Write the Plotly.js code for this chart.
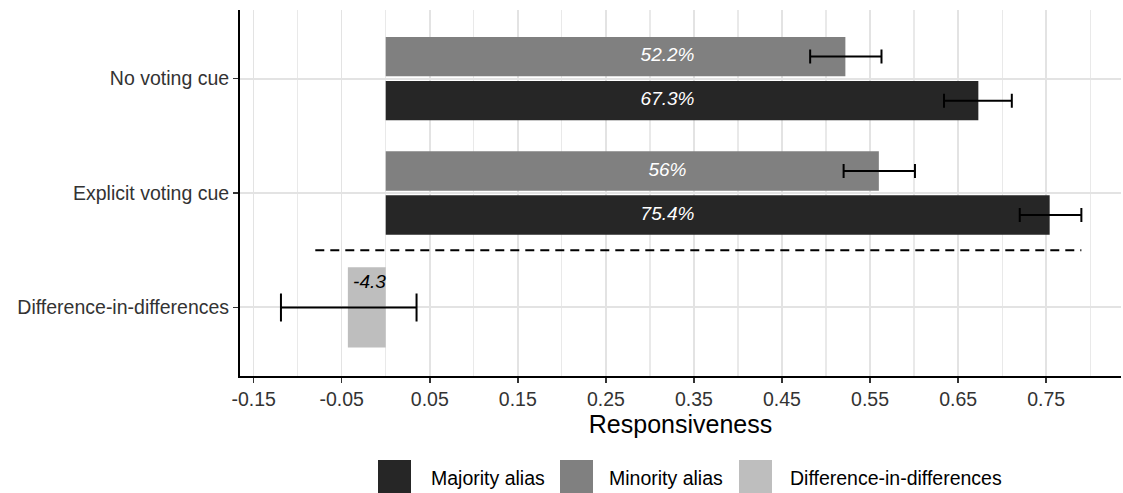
<!DOCTYPE html>
<html>
<head>
<meta charset="utf-8">
<script src="https://cdn.plot.ly/plotly-3.0.1.min.js"></script>
<style>html,body{margin:0;padding:0;background:#fff;}#chart{width:1123px;height:493px;}</style>
</head>
<body>
<div id="chart"></div>
<script>
// ---- data ----
const categories = ["Difference-in-differences", "Explicit voting cue", "No voting cue"];
const groupCats = ["No voting cue", "Explicit voting cue"];
const majorityVals = [0.673, 0.754];
const majorityLo = [0.634, 0.720];
const majorityHi = [0.711, 0.790];
const majorityLabels = ["67.3%", "75.4%"];
const minorityVals = [0.522, 0.560];
const minorityLo = [0.482, 0.520];
const minorityHi = [0.563, 0.601];
const minorityLabels = ["52.2%", "56%"];
const didCats = ["Difference-in-differences"];
const didVals = [-0.043];
const didLo = [-0.119];
const didHi = [0.035];
const didLabels = ["-4.3"];
const seriesNames = ["Majority alias", "Minority alias", "Difference-in-differences"];
const xTickVals = [-0.15, -0.05, 0.05, 0.15, 0.25, 0.35, 0.45, 0.55, 0.65, 0.75];
const xTickText = ["-0.15", "-0.05", "0.05", "0.15", "0.25", "0.35", "0.45", "0.55", "0.65", "0.75"];
const xMinorVals = [-0.1, 0, 0.1, 0.2, 0.3, 0.4, 0.5, 0.6, 0.7, 0.8];

// ---- styling ----
const colors = ["#262626", "#808080", "#bebebe"];
const FONT = "Liberation Sans, Arial, Helvetica, sans-serif";
const pos = c => categories.indexOf(c) + 1;
const barW = 0.345, gap = 0.02, didW = 0.7;
const labelX = 0.32;

function errs(vals, lo, hi) {
  return {type: "data", symmetric: false,
    array: vals.map((v, i) => hi[i] - v),
    arrayminus: vals.map((v, i) => v - lo[i]),
    color: "#000", thickness: 2};
}

const traces = [
  {type: "bar", orientation: "h", name: seriesNames[0], x: majorityVals, y: groupCats.map(pos),
   width: barW, offset: -gap - barW, marker: {color: colors[0]},
   error_x: Object.assign(errs(majorityVals, majorityLo, majorityHi), {width: 7}),
   showlegend: false, hoverinfo: "x"},
  {type: "bar", orientation: "h", name: seriesNames[1], x: minorityVals, y: groupCats.map(pos),
   width: barW, offset: gap, marker: {color: colors[1]},
   error_x: Object.assign(errs(minorityVals, minorityLo, minorityHi), {width: 7}),
   showlegend: false, hoverinfo: "x"},
  {type: "bar", orientation: "h", name: seriesNames[2], x: didVals, y: didCats.map(pos),
   width: didW, offset: -didW / 2, marker: {color: colors[2]},
   error_x: Object.assign(errs(didVals, didLo, didHi), {width: 14}),
   showlegend: false, hoverinfo: "x"},
  {type: "scatter", mode: "text", x: majorityVals.map(() => labelX),
   y: groupCats.map(c => pos(c) - gap - barW / 2), text: majorityLabels,
   textfont: {family: FONT, size: 19, color: "#fff", style: "italic"}, showlegend: false, hoverinfo: "skip"},
  {type: "scatter", mode: "text", x: minorityVals.map(() => labelX),
   y: groupCats.map(c => pos(c) + gap + barW / 2), text: minorityLabels,
   textfont: {family: FONT, size: 19, color: "#fff", style: "italic"}, showlegend: false, hoverinfo: "skip"},
  {type: "scatter", mode: "text", x: didVals.map(v => v / 2 + 0.003),
   y: didCats.map(c => pos(c) + 0.21), text: didLabels,
   textfont: {family: FONT, size: 19, color: "#000", style: "italic"}, showlegend: false, hoverinfo: "skip"}
];

// ---- layout ----
const W = 1123, H = 493, M = {l: 240, r: 2, t: 10, b: 117};
const PW = W - M.l - M.r, PH = H - M.t - M.b;
const px = x => (x - M.l) / PW;
const py = y => (H - M.b - y) / PH;

const shapes = [
  {type: "line", xref: "x", yref: "y", x0: -0.08, x1: 0.79, y0: 1.5, y1: 1.5,
   line: {color: "#000", width: 2, dash: "9px,6px"}}
];
const annotations = [];
const legX = [378, 560, 739], legTextX = [429, 607, 788];
seriesNames.forEach((n, i) => {
  shapes.push({type: "rect", xref: "paper", yref: "paper", x0: px(legX[i]), x1: px(legX[i] + 33),
    y0: py(493), y1: py(460), fillcolor: colors[i], line: {width: 0}});
  annotations.push({xref: "paper", yref: "paper", x: px(legTextX[i]), y: py(478), text: n,
    showarrow: false, xanchor: "left", yanchor: "middle",
    font: {family: FONT, size: 19.5, color: "#000"}});
});

const layout = {
  width: W, height: H, margin: M,
  paper_bgcolor: "#fff", plot_bgcolor: "#fff",
  font: {family: FONT, size: 20, color: "#333"},
  barmode: "overlay", showlegend: false,
  xaxis: {range: [-0.1655, 0.835], tickmode: "array", tickvals: xTickVals, ticktext: xTickText,
    showgrid: true, gridcolor: "#e3e3e3", gridwidth: 1.5, zeroline: false,
    minor: {tickmode: "array", tickvals: xMinorVals,
            showgrid: true, gridcolor: "#e9e9e9", gridwidth: 1.2, ticks: ""},
    showline: true, linecolor: "#000", linewidth: 2, ticks: "outside", ticklen: 5, tickcolor: "#333", tickwidth: 1.5,
    tickfont: {family: FONT, size: 19.5, color: "#333"},
    title: {text: "Responsiveness", font: {family: FONT, size: 25, color: "#000"}, standoff: 6}},
  yaxis: {range: [0.4, 3.6], tickmode: "array", tickvals: categories.map(pos), ticktext: categories,
    showgrid: true, gridcolor: "#e3e3e3", gridwidth: 2, zeroline: false,
    showline: true, linecolor: "#000", linewidth: 2, ticks: "outside", ticklen: 5, tickcolor: "#333", tickwidth: 1.5,
    tickfont: {family: FONT, size: 19.5, color: "#333"}},
  shapes: shapes, annotations: annotations
};

Plotly.newPlot("chart", traces, layout, {displayModeBar: false, staticPlot: true});
</script>
</body>
</html>
